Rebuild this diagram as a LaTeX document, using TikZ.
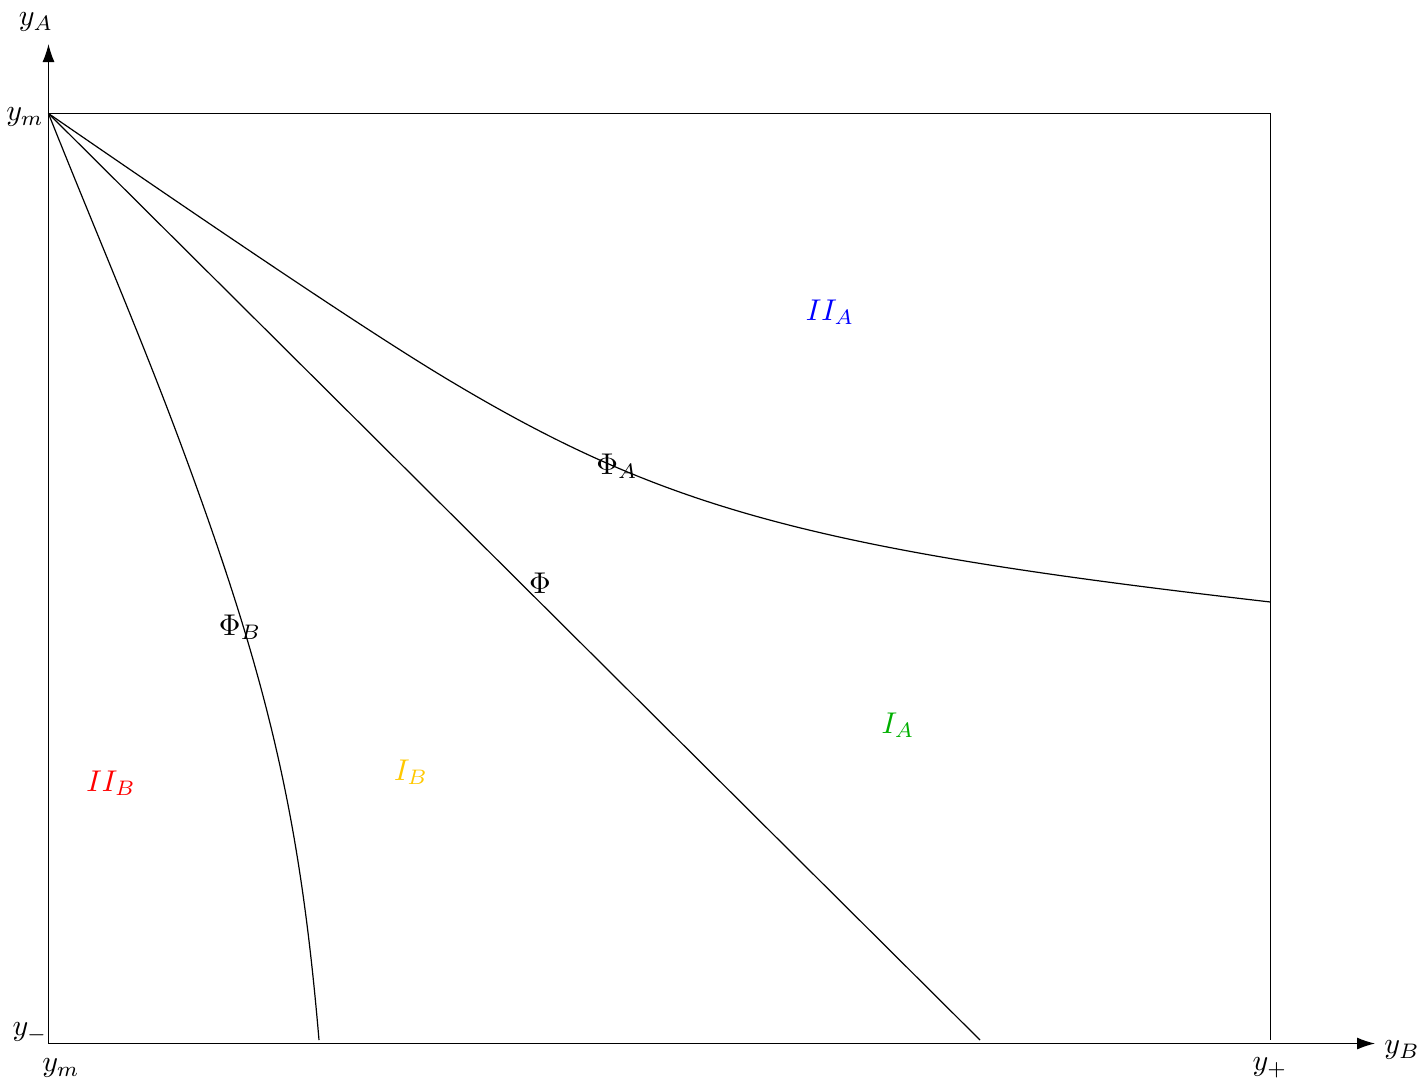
\documentclass[tikz,border=0pt]{standalone}
\usetikzlibrary{arrows.meta}
\begin{document}
\begin{tikzpicture}[x=0.33333pt,y=-0.33333pt,
  lbl/.style={inner sep=1pt},
  axis/.style={-{Latex[length=6pt,width=4pt]}},
  curve/.style={line width=0.4pt}]
\useasboundingbox (0,0) rectangle (1423,1084);
% key points
\coordinate (O) at (48.5,1043.5);
\coordinate (M) at (48.5,113.5);
\coordinate (TR) at (1270.5,113.5);
\coordinate (R) at (1270.5,1040);
\coordinate (XE) at (1375,1043.5);
\coordinate (YE) at (48.5,44);
\coordinate (PhiEnd) at (980,1040);
\coordinate (PhiAMid) at (447,379);
\coordinate (PhiAEnd) at (1270.5,602);
\coordinate (PhiBMid) at (183,450);
\coordinate (PhiBEnd) at (319,1040);
% axes
\draw[axis] (O) -- (XE);
\draw[axis] (O) -- (YE);
% box
\draw[curve] (M) -- (TR) -- (R);
% Phi line
\draw[curve] (M) -- (PhiEnd);
% Phi_A curve
\draw[curve] (M) .. controls (245.1,249) and (377.9,337.6) .. (PhiAMid)
  .. controls (664,509.2) and (812.1,549.4) .. (PhiAEnd);
% Phi_B curve
\draw[curve] (M) .. controls (92.8,225) and (141.6,338) .. (PhiBMid)
  .. controls (268.8,681.9) and (300.1,817.6) .. (PhiBEnd);
% axis labels
\node[lbl] (yA) at (36,22) {$y_A$};
\node[lbl] (yB) at (1402,1050) {$y_B$};
\node[lbl] (ymL) at (25,117) {$y_m$};
\node[lbl] (yminus) at (30,1033) {$y_-$};
\node[lbl] (ymB) at (61,1068) {$y_m$};
\node[lbl] (yplus) at (1270,1068) {$y_+$};
% curve labels
\node[lbl] (lPhiA) at (617,466) {$\Phi_A$};
\node[lbl] (lPhi) at (540,583) {$\Phi$};
\node[lbl] (lPhiB) at (240,627) {$\Phi_B$};
% region labels
\node[lbl, text=blue] (IIA) at (830,312) {$II_A$};
\node[lbl, text={rgb,255:red,0;green,175;blue,0}] (IA) at (898,725) {$I_A$};
\node[lbl, text={rgb,255:red,255;green,200;blue,0}] (IB) at (411,772) {$I_B$};
\node[lbl, text=red] (IIB) at (111,783) {$II_B$};
\end{tikzpicture}
\end{document}
